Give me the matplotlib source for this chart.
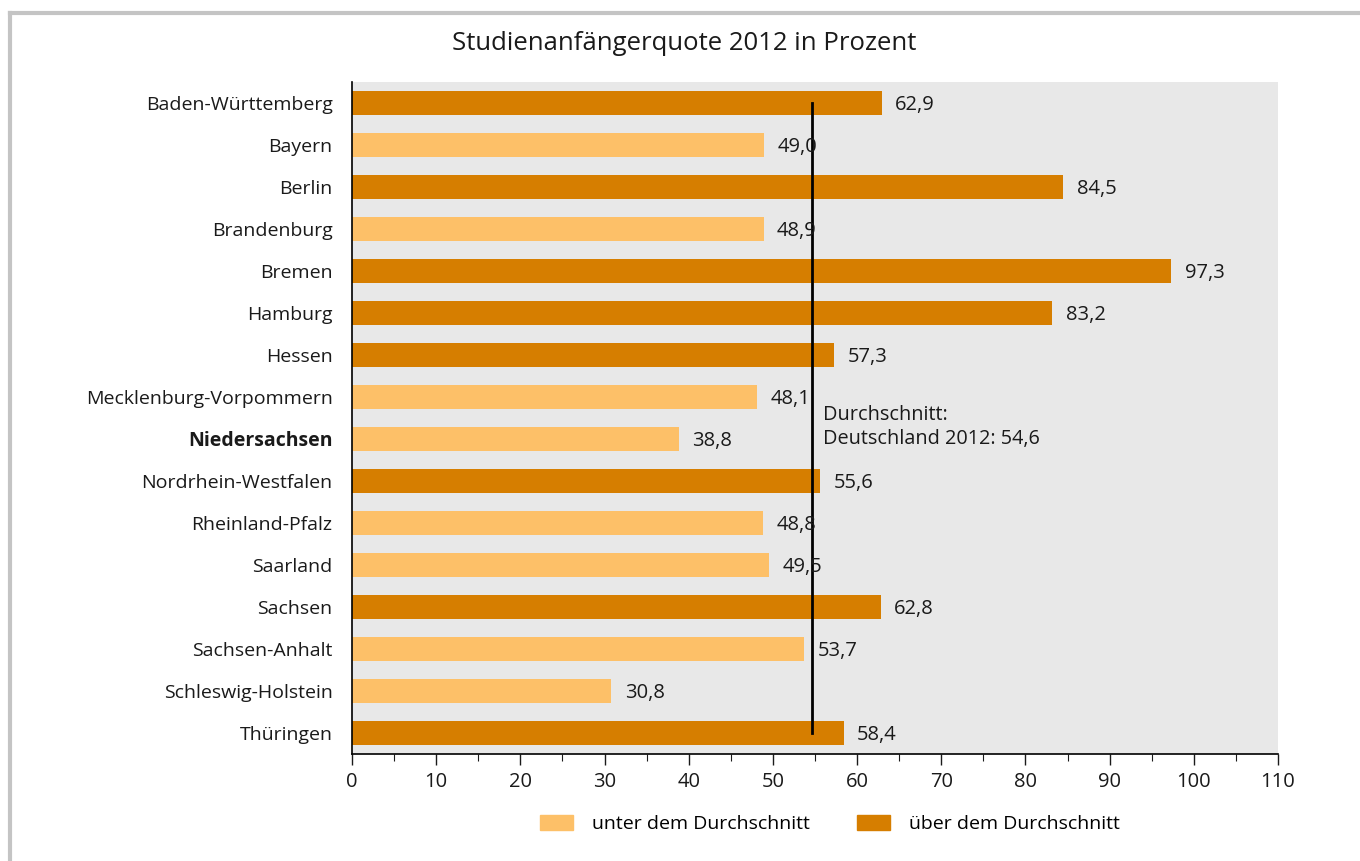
import matplotlib.pyplot as plt
from matplotlib.lines import Line2D
from matplotlib.patches import Patch
from matplotlib.ticker import MultipleLocator

plt.rcParams['font.family'] = ['Open Sans', 'DejaVu Sans']

# ================================
# Data
# ================================
laender = ["Baden-Württemberg", "Bayern", "Berlin", "Brandenburg", "Bremen",
           "Hamburg", "Hessen", "Mecklenburg-Vorpommern", "Niedersachsen",
           "Nordrhein-Westfalen", "Rheinland-Pfalz", "Saarland", "Sachsen",
           "Sachsen-Anhalt", "Schleswig-Holstein", "Thüringen"]
quote = [62.9, 49.0, 84.5, 48.9, 97.3, 83.2, 57.3, 48.1, 38.8,
         55.6, 48.8, 49.5, 62.8, 53.7, 30.8, 58.4]
durchschnitt = 54.6

c_unter = "#FDC068"
c_ueber = "#D67E00"
txt = "#1a1a1a"

fig = plt.figure(figsize=(13.6, 8.61), dpi=100)
ax = fig.add_axes([352/1360, 1 - 754/861, (1278-352)/1360, (754-82)/861])
ax.set_facecolor("#E8E8E8")

y = list(range(len(laender)))
colors = [c_ueber if v > durchschnitt else c_unter for v in quote]
ax.barh(y, quote, height=0.57, color=colors, zorder=2)

for yi, v in zip(y, quote):
    ax.text(v + 1.6, yi + 0.05, f"{v:.1f}".replace(".", ","), va="center", ha="left",
            fontsize=14.5, color=txt, zorder=4)

# Durchschnittslinie
ax.plot([durchschnitt, durchschnitt], [0, len(laender) - 1], color="black", lw=2, zorder=3)
ax.text(durchschnitt + 1.3, 7.72, "Durchschnitt:\nDeutschland 2012: " + f"{durchschnitt:.1f}".replace(".", ","),
        va="center", ha="left", fontsize=14.3, color=txt, linespacing=1.3, zorder=4)

ax.set_xlim(0, 110)
ax.set_ylim(len(laender) - 0.5, -0.5)
ax.set_yticks(y)
ax.set_yticklabels(laender, fontsize=14, color=txt)
for lbl in ax.get_yticklabels():
    if lbl.get_text() == "Niedersachsen":
        lbl.set_fontweight("bold")
ax.tick_params(axis="y", length=0, pad=14)
ax.xaxis.set_major_locator(MultipleLocator(10))
ax.xaxis.set_minor_locator(MultipleLocator(5))
ax.tick_params(axis="x", which="major", length=8, width=1, labelsize=14.5, pad=5, colors=txt)
ax.tick_params(axis="x", which="minor", length=5, width=0.8, colors=txt)
for s in ["top", "right"]:
    ax.spines[s].set_visible(False)
ax.spines["left"].set_linewidth(1.2)
ax.spines["bottom"].set_linewidth(1.2)

fig.text(684/1360, 1 - 44/861, "Studienanfängerquote 2012 in Prozent", ha="center", va="center",
         fontsize=18.5, color=txt)

handles = [Patch(color=c_unter, label="unter dem Durchschnitt"),
           Patch(color=c_ueber, label="über dem Durchschnitt")]
fig.legend(handles=handles, loc="center", bbox_to_anchor=(830/1360, 1 - 824/861), ncol=2,
           frameon=False, fontsize=14, handlelength=1.7, handleheight=0.85,
           handletextpad=1.0, columnspacing=2.4)

# Rahmen
fig.add_artist(Line2D([10/1360, 10/1360], [0, 1 - 13/861], color="#C4C4C4", lw=3,
                      transform=fig.transFigure))
fig.add_artist(Line2D([10/1360, 1], [1 - 13/861, 1 - 13/861], color="#C4C4C4", lw=3,
                      transform=fig.transFigure))

plt.savefig("out.png", dpi=100)
